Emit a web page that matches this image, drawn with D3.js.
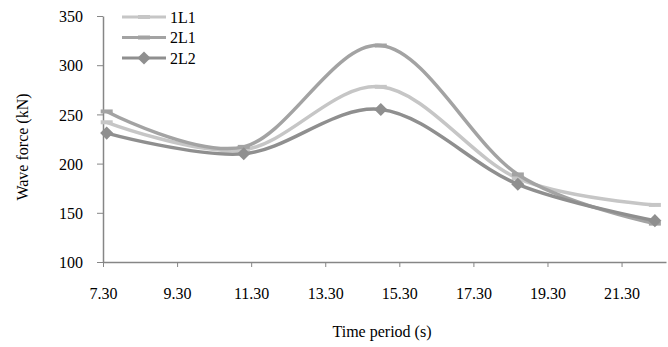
<!DOCTYPE html>
<html lang="en">
<head>
<meta charset="UTF-8">
<title>Wave force</title>
<script src="https://d3js.org/d3.v7.min.js"></script>
<style>
    body { margin: 0; background: #fff; }
</style>
</head>
<body>
<svg width="668" height="347"></svg>
<script>
// data
const periods = [7.4, 11.1, 14.8, 18.5, 22.2];
const load1L1 = [242, 214, 278, 185, 158];
const load2L1 = [253, 217, 320, 189, 139];
const load2L2 = [231, 210, 255, 179, 142];
const seriesNames = ["1L1", "2L1", "2L2"];
const xTicks = [7.3, 9.3, 11.3, 13.3, 15.3, 17.3, 19.3, 21.3];
const yTicks = [100, 150, 200, 250, 300, 350];

const serif = "'Liberation Serif', 'Times New Roman', Times, serif";

let series = [
    {name: seriesNames[0], values: load1L1, color: "#c6c6c6", marker: "dash"},
    {name: seriesNames[1], values: load2L1, color: "#a3a3a3", marker: "dash"},
    {name: seriesNames[2], values: load2L2, color: "#8f8f8f", marker: "diamond"}
];

let svg = d3.select("svg");

let x = d3.scaleLinear().domain([7.3, 22.5]).range([103, 666]);
let y = d3.scaleLinear().domain([100, 350]).range([262, 16]);

// axes
let xAxis = svg.append("g")
    .attr("transform", "translate(0,262)")
    .call(d3.axisBottom(x).tickValues(xTicks).tickSize(5).tickSizeOuter(0).tickFormat(d3.format(".2f")));
let yAxis = svg.append("g")
    .attr("transform", "translate(103,0)")
    .call(d3.axisLeft(y).tickValues(yTicks).tickSize(6).tickSizeOuter(0));

[xAxis, yAxis].forEach(a => {
    a.attr("font-family", serif).attr("font-size", 16);
    a.select(".domain").attr("stroke", "#868686").attr("stroke-width", 1.5);
    a.selectAll(".tick line").attr("stroke", "#868686");
    a.selectAll("text").attr("fill", "#000");
});
xAxis.selectAll("text").attr("dy", "0").attr("y", 37);
yAxis.selectAll("text").attr("x", -20).attr("dy", "0.35em");

// titles
svg.append("text")
    .attr("x", 382).attr("y", 337)
    .attr("text-anchor", "middle")
    .attr("font-family", serif).attr("font-size", 16)
    .text("Time period (s)");
svg.append("text")
    .attr("transform", "translate(28,147) rotate(-90)")
    .attr("text-anchor", "middle")
    .attr("font-family", serif).attr("font-size", 16)
    .text("Wave force (kN)");

let line = d3.line()
    .x((d, i) => x(periods[i]))
    .y(d => y(d))
    .curve(d3.curveCardinal.tension(0));

let diamond = d3.symbol().type(d3.symbolDiamond2).size(110);

function drawMarker(g, s, cx, cy) {
    if (s.marker == "diamond") {
        g.append("path")
            .attr("d", diamond())
            .attr("transform", "translate(" + cx + "," + cy + ")")
            .attr("fill", s.color);
    } else {
        g.append("line")
            .attr("x1", cx - 6).attr("x2", cx + 6)
            .attr("y1", cy).attr("y2", cy)
            .attr("stroke", s.color)
            .attr("stroke-width", 4);
    }
}

series.forEach(s => {
    svg.append("path")
        .datum(s.values)
        .attr("d", line)
        .attr("fill", "none")
        .attr("stroke", s.color)
        .attr("stroke-width", 3.5);
    let g = svg.append("g");
    s.values.forEach((v, i) => drawMarker(g, s, x(periods[i]), y(v)));
});

// legend
let legend = svg.append("g");
series.forEach((s, i) => {
    let ly = 17 + i * 20.5;
    legend.append("line")
        .attr("x1", 122).attr("x2", 166)
        .attr("y1", ly).attr("y2", ly)
        .attr("stroke", s.color)
        .attr("stroke-width", 3);
    drawMarker(legend, s, 144, ly);
    legend.append("text")
        .attr("x", 170).attr("y", ly)
        .attr("dy", "0.35em")
        .attr("font-family", serif).attr("font-size", 16)
        .text(s.name);
});
</script>
</body>
</html>
